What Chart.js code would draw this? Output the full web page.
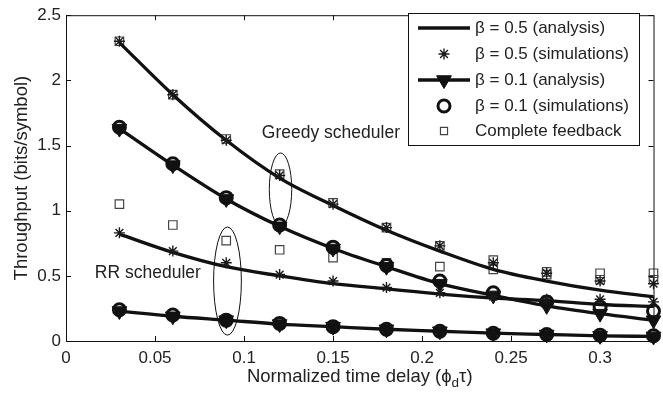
<!DOCTYPE html>
<html>
<head>
<meta charset="utf-8">
<script src="https://cdn.jsdelivr.net/npm/chart.js@4.4.0/dist/chart.umd.min.js"></script>
<style>
  body { margin: 0; background: #fff; }
</style>
</head>
<body>
<canvas id="throughputChart" width="663" height="396"></canvas>
<script>
// Normalized time delay values (x axis)
const delays = [0.03, 0.06, 0.09, 0.12, 0.15, 0.18, 0.21, 0.24, 0.27, 0.30, 0.33];

// Greedy scheduler
const greedyHalfAnalysis = [2.29, 1.89, 1.54, 1.25, 1.04, 0.85, 0.69, 0.55, 0.46, 0.39, 0.34];
const greedyHalfSim      = [2.30, 1.89, 1.54, 1.27, 1.05, 0.87, 0.73, 0.60, 0.52, 0.46, 0.44];
const greedyTenthAnalysis = [1.63, 1.35, 1.09, 0.88, 0.71, 0.57, 0.44, 0.35, 0.27, 0.21, 0.16];
const greedyTenthSim      = [1.64, 1.36, 1.10, 0.89, 0.72, 0.58, 0.46, 0.37, 0.30, 0.26, 0.23];
const greedyFull = [2.30, 1.89, 1.55, 1.28, 1.06, 0.87, 0.73, 0.62, 0.53, 0.52, 0.52];

// Round robin scheduler
const rrHalfAnalysis = [0.82, 0.68, 0.57, 0.50, 0.44, 0.40, 0.36, 0.33, 0.31, 0.28, 0.265];
const rrHalfSim      = [0.83, 0.69, 0.60, 0.51, 0.46, 0.41, 0.37, 0.34, 0.32, 0.32, 0.30];
const rrTenthAnalysis = [0.23, 0.19, 0.16, 0.13, 0.11, 0.09, 0.075, 0.06, 0.05, 0.04, 0.035];
const rrTenthSim      = [0.24, 0.20, 0.16, 0.135, 0.11, 0.09, 0.075, 0.06, 0.05, 0.045, 0.04];
const rrFull = [1.05, 0.89, 0.77, 0.70, 0.64, 0.60, 0.57, 0.55, 0.51, 0.47, 0.47];

// Tick labels
const xTicks = [0, 0.05, 0.1, 0.15, 0.2, 0.25, 0.3];
const yTicks = [0, 0.5, 1, 1.5, 2, 2.5];

const FONT = '"Liberation Sans", Arial, Helvetica, sans-serif';
const INK = "#111";

Chart.defaults.font.family = FONT;
Chart.defaults.color = "#222";

const pts = ys => delays.map((d, i) => ({ x: d, y: ys[i] }));

// dataset styles
const analysisLine = {
    borderColor: INK, borderWidth: 3.3, pointRadius: 0,
    cubicInterpolationMode: "monotone", order: 5, clip: 10
};
const triangleLine = {
    borderColor: INK, borderWidth: 3.3, cubicInterpolationMode: "monotone",
    pointStyle: "triangle", pointRotation: 180, pointRadius: 8.5,
    pointBackgroundColor: INK, pointBorderColor: INK, pointBorderWidth: 1, order: 4, clip: 10
};
const starMarks = {
    showLine: false, pointStyle: "star", pointRadius: 5.5,
    pointBorderColor: "#1a1a1a", pointBorderWidth: 1.4, order: 2, clip: 10
};
const circleMarks = {
    showLine: false, pointStyle: "circle", pointRadius: 6,
    pointBackgroundColor: "rgba(0,0,0,0)", pointBorderColor: INK, pointBorderWidth: 3, order: 3, clip: 10
};
const squareMarks = {
    showLine: false, pointStyle: "rect", pointRadius: 6,
    pointBackgroundColor: "rgba(0,0,0,0)", pointBorderColor: "#444", pointBorderWidth: 1.2, order: 10, clip: 10
};

const datasets = [
    { label: "β = 0.5 (analysis)", data: pts(greedyHalfAnalysis), ...analysisLine },
    { label: "β = 0.5 (analysis) RR", data: pts(rrHalfAnalysis), ...analysisLine },
    { label: "β = 0.1 (analysis)", data: pts(greedyTenthAnalysis), ...triangleLine },
    { label: "β = 0.1 (analysis) RR", data: pts(rrTenthAnalysis), ...triangleLine },
    { label: "β = 0.5 (simulations)", data: pts(greedyHalfSim), ...starMarks },
    { label: "β = 0.5 (simulations) RR", data: pts(rrHalfSim), ...starMarks },
    { label: "β = 0.1 (simulations)", data: pts(greedyTenthSim), ...circleMarks },
    { label: "β = 0.1 (simulations) RR", data: pts(rrTenthSim), ...circleMarks },
    { label: "Complete feedback", data: pts(greedyFull), ...squareMarks },
    { label: "Complete feedback RR", data: pts(rrFull), ...squareMarks }
];

// legend rows: dataset index + whether a line sample is drawn
const legendRows = [
    { ds: 0, line: true, marker: false },
    { ds: 4, line: false, marker: true },
    { ds: 2, line: true, marker: true },
    { ds: 6, line: false, marker: true },
    { ds: 8, line: false, marker: true }
];

// frame with inward ticks, like the original figure
const framePlugin = {
    id: "frame",
    afterDraw(chart) {
        const { ctx, chartArea: a, scales } = chart;
        ctx.save();
        ctx.strokeStyle = INK;
        ctx.lineWidth = 1;
        ctx.strokeRect(a.left + 0.5, a.top + 0.5, a.right - a.left, a.bottom - a.top);
        ctx.beginPath();
        xTicks.forEach(v => {
            const x = Math.round(scales.x.getPixelForValue(v)) + 0.5;
            ctx.moveTo(x, a.bottom); ctx.lineTo(x, a.bottom - 5);
            ctx.moveTo(x, a.top); ctx.lineTo(x, a.top + 5);
        });
        yTicks.forEach(v => {
            const y = Math.round(scales.y.getPixelForValue(v)) + 0.5;
            ctx.moveTo(a.left, y); ctx.lineTo(a.left + 5, y);
            ctx.moveTo(a.right, y); ctx.lineTo(a.right - 5, y);
        });
        ctx.stroke();

        // axis titles
        ctx.fillStyle = "#222";
        ctx.textBaseline = "middle";
        const big = "18.5px " + FONT, small = "13.5px " + FONT;
        const main = "Normalized time delay (ϕ";
        const rest = "τ)";
        ctx.font = big;
        const w1 = ctx.measureText(main).width;
        const w3 = ctx.measureText(rest).width;
        ctx.font = small;
        const w2 = ctx.measureText("d").width;
        const x0 = (a.left + a.right) / 2 - (w1 + w2 + w3) / 2;
        const ty = 377;
        ctx.textAlign = "left";
        ctx.font = big;
        ctx.fillText(main, x0, ty);
        ctx.font = small;
        ctx.fillText("d", x0 + w1, ty + 6);
        ctx.font = big;
        ctx.fillText(rest, x0 + w1 + w2, ty);

        ctx.translate(22, (a.top + a.bottom) / 2);
        ctx.rotate(-Math.PI / 2);
        ctx.textAlign = "center";
        ctx.fillText("Throughput (bits/symbol)", 0, 0);
        ctx.restore();
    }
};

// scheduler labels and ellipses
const notesPlugin = {
    id: "notes",
    afterDatasetsDraw(chart) {
        const { ctx, scales } = chart;
        const sx = scales.x, sy = scales.y;
        ctx.save();
        ctx.fillStyle = "#222";
        ctx.font = "17.5px " + FONT;
        ctx.textBaseline = "middle";
        ctx.textAlign = "left";
        ctx.fillText("Greedy scheduler", sx.getPixelForValue(0.110), sy.getPixelForValue(1.595));
        ctx.fillText("RR scheduler", sx.getPixelForValue(0.0162), sy.getPixelForValue(0.52));

        ctx.strokeStyle = INK;
        ctx.lineWidth = 1;
        const ellipse = (cx, cy, rx, ry) => {
            const px = sx.getPixelForValue(cx), py = sy.getPixelForValue(cy);
            const prx = sx.getPixelForValue(cx + rx) - px;
            const pry = py - sy.getPixelForValue(cy + ry);
            ctx.beginPath();
            ctx.ellipse(px, py, prx, pry, 0, 0, Math.PI * 2);
            ctx.stroke();
        };
        ellipse(0.1205, 1.163, 0.0063, 0.28);
        ellipse(0.0907, 0.46, 0.0078, 0.415);
        ctx.restore();
    }
};

const legendPlugin = {
    id: "boxLegend",
    afterDraw(chart) {
        const { ctx } = chart;
        const left = 408, top = 13, width = 231, height = 132;
        ctx.save();
        ctx.fillStyle = "#fff";
        ctx.fillRect(left, top, width, height);
        ctx.strokeStyle = INK;
        ctx.lineWidth = 1;
        ctx.strokeRect(left + 0.5, top + 0.5, width, height);
        const rowY = [28, 54, 80, 106, 131];
        legendRows.forEach((row, i) => {
            const ds = chart.data.datasets[row.ds];
            const y = rowY[i];
            if (row.line) {
                ctx.strokeStyle = ds.borderColor;
                ctx.lineWidth = ds.borderWidth;
                ctx.beginPath();
                ctx.moveTo(418, y); ctx.lineTo(470, y);
                ctx.stroke();
            }
            if (row.marker) {
                ctx.fillStyle = ds.pointBackgroundColor || "rgba(0,0,0,0)";
                ctx.strokeStyle = ds.pointBorderColor;
                ctx.lineWidth = ds.pointBorderWidth;
                Chart.helpers.drawPoint(ctx, {
                    pointStyle: ds.pointStyle,
                    rotation: ds.pointRotation || 0,
                    radius: ds.pointStyle === "rect" ? 5 : ds.pointRadius,
                    borderWidth: ds.pointBorderWidth
                }, 444, y);
            }
            ctx.fillStyle = "#222";
            ctx.font = "17px " + FONT;
            ctx.textBaseline = "middle";
            ctx.textAlign = "left";
            ctx.fillText(ds.label, 475, y);
        });
        ctx.restore();
    }
};

const ctx = document.getElementById("throughputChart").getContext("2d");

const throughputChart = new Chart(ctx, {
    type: "line",
    data: { datasets: datasets },
    options: {
        responsive: false,
        animation: false,
        layout: { padding: { top: 10, right: 5, left: 0, bottom: 0 } },
        scales: {
            x: {
                type: "linear",
                min: 0,
                max: 0.33,
                afterBuildTicks: s => { s.ticks = xTicks.map(v => ({ value: v })); },
                afterFit: s => { s.height = 55; },
                grid: { display: false, drawTicks: false },
                border: { display: false },
                ticks: { font: { size: 17 }, padding: 7, maxRotation: 0, autoSkip: false,
                         callback: v => String(v) }
            },
            y: {
                min: 0,
                max: 2.5,
                afterBuildTicks: s => { s.ticks = yTicks.map(v => ({ value: v })); },
                afterFit: s => { s.width = 66; },
                grid: { display: false, drawTicks: false },
                border: { display: false },
                ticks: { font: { size: 17 }, padding: 5, callback: v => String(v) }
            }
        },
        plugins: {
            legend: { display: false },
            tooltip: { enabled: false }
        }
    },
    plugins: [notesPlugin, framePlugin, legendPlugin]
});
</script>
</body>
</html>
